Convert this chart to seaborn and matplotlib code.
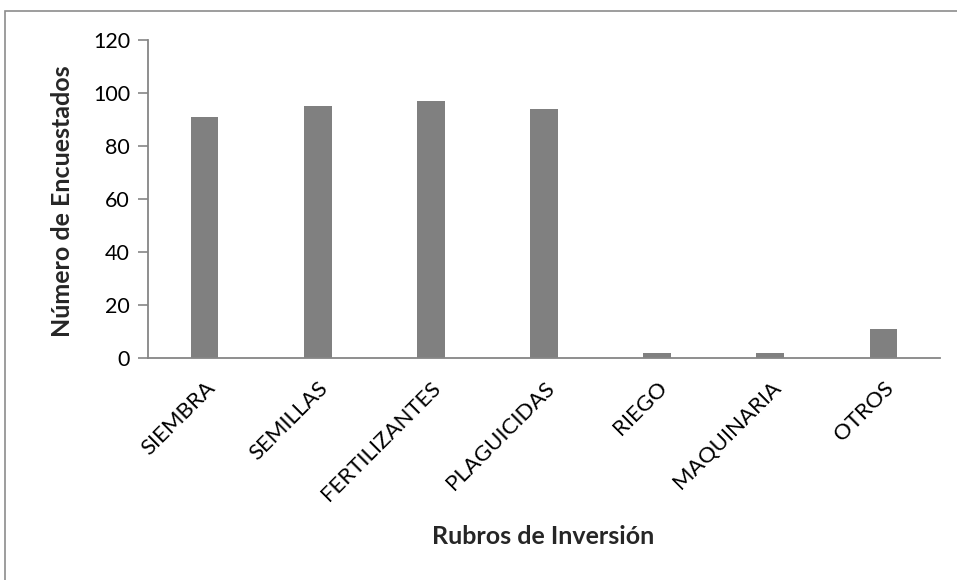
import matplotlib
matplotlib.use("Agg")
import matplotlib.pyplot as plt
import seaborn as sns
import pandas as pd
from matplotlib.patches import Rectangle

categorias = ["SIEMBRA", "SEMILLAS", "FERTILIZANTES", "PLAGUICIDAS", "RIEGO", "MAQUINARIA", "OTROS"]
encuestados = [91, 95, 97, 94, 2, 2, 11]
yticks = [0, 20, 40, 60, 80, 100, 120]

sns.set_theme(style="white")
plt.rcParams["font.family"] = ["Lato", "DejaVu Sans"]

df = pd.DataFrame({"Rubro": categorias, "Encuestados": encuestados})

fig = plt.figure(figsize=(9.57, 5.8), dpi=100)
ax = fig.add_axes([148 / 957, 1 - 358.3 / 580, (940 - 148) / 957, (358.3 - 40) / 580])

sns.barplot(data=df, x="Rubro", y="Encuestados", color="#808080", width=0.245,
            saturation=1, ax=ax, edgecolor="none")

axis_gray = "#868686"
ax.set_ylim(0, 120)
ax.set_yticks(yticks)
ax.set_xlim(-0.5, len(categorias) - 0.5)
for side in ["top", "right"]:
    ax.spines[side].set_visible(False)
for side in ["left", "bottom"]:
    ax.spines[side].set_color(axis_gray)
    ax.spines[side].set_linewidth(1.3)

ax.tick_params(axis="y", which="major", left=True, length=7, width=1.2, color=axis_gray,
               labelsize=15.5, labelcolor="black", pad=6)
ax.tick_params(axis="x", which="major", bottom=False, labelsize=16, labelcolor="black", pad=8)
for lbl in ax.get_xticklabels():
    lbl.set_rotation(45)
    lbl.set_ha("right")
    lbl.set_rotation_mode("anchor")

ax.set_xlabel("")
ax.set_ylabel("")
fig.text(63 / 957, 1 - 201 / 580, "Número de Encuestados", rotation=90, fontsize=18,
         fontweight="bold", ha="center", va="center")
fig.text(543 / 957, 1 - 537 / 580, "Rubros de Inversión", fontsize=18,
         fontweight="bold", ha="center", va="center")

# chart frame
fig.patches.append(Rectangle((5 / 957, -0.1), 1.2, 1 - 10.5 / 580 + 0.1,
                             transform=fig.transFigure, fill=False,
                             edgecolor="#8c8c8c", linewidth=1.2))

fig.savefig("out.png", dpi=100)
